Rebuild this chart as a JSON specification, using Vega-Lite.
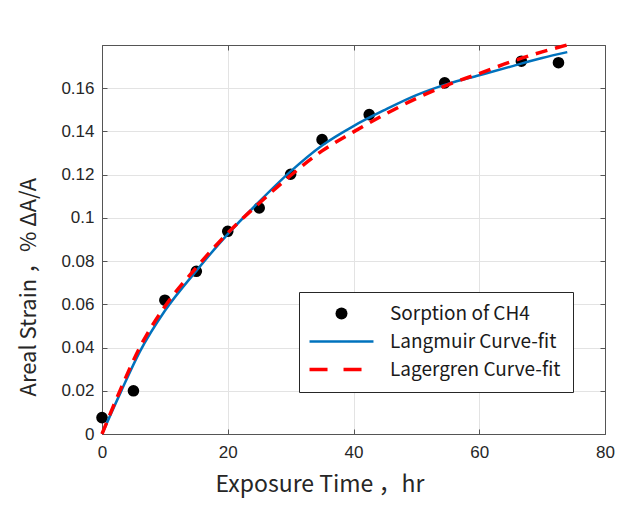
{
  "$schema": "https://vega.github.io/schema/vega-lite/v6.json",
  "autosize": "none",
  "width": 503,
  "height": 389,
  "padding": {"left": 102, "top": 45, "right": 16, "bottom": 72},
  "background": "white",
  "config": {
    "view": {"stroke": "#555555", "strokeWidth": 1},
    "axis": {
      "domainColor": "#555555",
      "tickColor": "#555555",
      "tickSize": -5,
      "gridColor": "#e3e3e3",
      "labelFont": "Liberation Sans",
      "labelFontSize": 17,
      "labelColor": "#262626",
      "labelFlush": false,
      "titleFont": "Noto Sans CJK SC",
      "titleFontSize": 23,
      "titleFontWeight": "normal",
      "titleColor": "#262626"
    },
    "legend": {
      "title": null,
      "orient": "none",
      "legendX": 197,
      "legendY": 247,
      "strokeColor": "#262626",
      "fillColor": "white",
      "padding": 12,
      "rowPadding": 8,
      "symbolSize": 144,
      "symbolOffset": 21,
      "labelOffset": 39,
      "labelLimit": 400,
      "labelFont": "Noto Sans CJK SC",
      "labelFontSize": 19,
      "labelColor": "#1a1a1a"
    }
  },
  "datasets": {
    "sorption": [
      {"series": "Sorption of CH4", "t": 0, "strain": 0.0076},
      {"series": "Sorption of CH4", "t": 5, "strain": 0.0200},
      {"series": "Sorption of CH4", "t": 10, "strain": 0.0619},
      {"series": "Sorption of CH4", "t": 15, "strain": 0.0753},
      {"series": "Sorption of CH4", "t": 20, "strain": 0.0938},
      {"series": "Sorption of CH4", "t": 25, "strain": 0.1046},
      {"series": "Sorption of CH4", "t": 30, "strain": 0.1202},
      {"series": "Sorption of CH4", "t": 35, "strain": 0.1362},
      {"series": "Sorption of CH4", "t": 42.5, "strain": 0.1478},
      {"series": "Sorption of CH4", "t": 54.5, "strain": 0.1625},
      {"series": "Sorption of CH4", "t": 66.7, "strain": 0.1725},
      {"series": "Sorption of CH4", "t": 72.6, "strain": 0.1718}
    ],
    "langmuir": [
      {"series": "Langmuir Curve-fit", "t": 0, "strain": 0},
      {"series": "Langmuir Curve-fit", "t": 3, "strain": 0.0195},
      {"series": "Langmuir Curve-fit", "t": 6, "strain": 0.038},
      {"series": "Langmuir Curve-fit", "t": 10, "strain": 0.057},
      {"series": "Langmuir Curve-fit", "t": 15, "strain": 0.0755},
      {"series": "Langmuir Curve-fit", "t": 20, "strain": 0.0925},
      {"series": "Langmuir Curve-fit", "t": 25, "strain": 0.1075},
      {"series": "Langmuir Curve-fit", "t": 30, "strain": 0.1215},
      {"series": "Langmuir Curve-fit", "t": 35, "strain": 0.1335},
      {"series": "Langmuir Curve-fit", "t": 40, "strain": 0.1425},
      {"series": "Langmuir Curve-fit", "t": 45, "strain": 0.150},
      {"series": "Langmuir Curve-fit", "t": 50, "strain": 0.1568},
      {"series": "Langmuir Curve-fit", "t": 55, "strain": 0.1620},
      {"series": "Langmuir Curve-fit", "t": 60, "strain": 0.1660},
      {"series": "Langmuir Curve-fit", "t": 65, "strain": 0.1700},
      {"series": "Langmuir Curve-fit", "t": 70, "strain": 0.1740},
      {"series": "Langmuir Curve-fit", "t": 74, "strain": 0.1767}
    ],
    "lagergren": [
      {"series": "Lagergren Curve-fit", "t": 0, "strain": 0},
      {"series": "Lagergren Curve-fit", "t": 3, "strain": 0.021},
      {"series": "Lagergren Curve-fit", "t": 6, "strain": 0.040},
      {"series": "Lagergren Curve-fit", "t": 10, "strain": 0.059},
      {"series": "Lagergren Curve-fit", "t": 15, "strain": 0.077},
      {"series": "Lagergren Curve-fit", "t": 20, "strain": 0.093},
      {"series": "Lagergren Curve-fit", "t": 25, "strain": 0.1068},
      {"series": "Lagergren Curve-fit", "t": 30, "strain": 0.1196},
      {"series": "Lagergren Curve-fit", "t": 35, "strain": 0.131},
      {"series": "Lagergren Curve-fit", "t": 40, "strain": 0.1398},
      {"series": "Lagergren Curve-fit", "t": 45, "strain": 0.1479},
      {"series": "Lagergren Curve-fit", "t": 50, "strain": 0.1553},
      {"series": "Lagergren Curve-fit", "t": 55, "strain": 0.1616},
      {"series": "Lagergren Curve-fit", "t": 60, "strain": 0.1668},
      {"series": "Lagergren Curve-fit", "t": 65, "strain": 0.1722},
      {"series": "Lagergren Curve-fit", "t": 70, "strain": 0.1768},
      {"series": "Lagergren Curve-fit", "t": 74, "strain": 0.1800}
    ]
  },
  "layer": [
    {
      "data": {"name": "sorption"},
      "mark": {"type": "point", "filled": true, "size": 135, "opacity": 1},
      "encoding": {
        "x": {
          "field": "t", "type": "quantitative",
          "scale": {"domain": [0, 80], "nice": false},
          "axis": {"values": [0, 20, 40, 60, 80], "grid": true, "title": "Exposure Time ，hr", "labelPadding": 15, "titlePadding": 13, "titleAnchor": "start", "titleX": 113}
        },
        "y": {
          "field": "strain", "type": "quantitative",
          "scale": {"domain": [0, 0.18], "nice": false},
          "axis": {"values": [0, 0.02, 0.04, 0.06, 0.08, 0.1, 0.12, 0.14, 0.16], "format": "~g", "grid": true, "title": "Areal Strain ，% ΔA/A", "titleFontSize": 22, "labelPadding": 13, "titlePadding": 20, "titleAnchor": "start", "titleY": 351}
        },
        "color": {
          "field": "series", "type": "nominal",
          "scale": {"domain": ["Sorption of CH4", "Langmuir Curve-fit", "Lagergren Curve-fit"], "range": ["#000000", "#0072BD", "#FF0000"]},
          "legend": {
            "labelExpr": "datum.label + '\u00a0\u00a0'",
            "encode": {
              "symbols": {
                "update": {
                  "shape": {"signal": "datum.value === 'Sorption of CH4' ? 'circle' : 'M-5.33,0H5.33'"},
                  "fill": {"signal": "datum.value === 'Sorption of CH4' ? '#000000' : 'transparent'"},
                  "stroke": {"signal": "datum.value === 'Langmuir Curve-fit' ? '#0072BD' : datum.value === 'Lagergren Curve-fit' ? '#FF0000' : 'transparent'"},
                  "strokeWidth": {"signal": "datum.value === 'Lagergren Curve-fit' ? 3.5 : datum.value === 'Langmuir Curve-fit' ? 2.5 : 0"},
                  "strokeDash": {"signal": "datum.value === 'Lagergren Curve-fit' ? [18, 16] : [1, 0]"},
                  "opacity": {"value": 1}
                }
              }
            }
          }
        }
      }
    },
    {
      "data": {"name": "langmuir"},
      "mark": {"type": "line", "strokeWidth": 2.5, "interpolate": "monotone"},
      "encoding": {
        "x": {"field": "t", "type": "quantitative", "axis": null},
        "y": {"field": "strain", "type": "quantitative", "axis": null},
        "color": {
          "field": "series", "type": "nominal",
          "legend": {
            "labelExpr": "datum.label + '\u00a0\u00a0'",
            "encode": {
              "symbols": {
                "update": {
                  "shape": {"signal": "datum.value === 'Sorption of CH4' ? 'circle' : 'M-5.33,0H5.33'"},
                  "fill": {"signal": "datum.value === 'Sorption of CH4' ? '#000000' : 'transparent'"},
                  "stroke": {"signal": "datum.value === 'Langmuir Curve-fit' ? '#0072BD' : datum.value === 'Lagergren Curve-fit' ? '#FF0000' : 'transparent'"},
                  "strokeWidth": {"signal": "datum.value === 'Lagergren Curve-fit' ? 3.5 : datum.value === 'Langmuir Curve-fit' ? 2.5 : 0"},
                  "strokeDash": {"signal": "datum.value === 'Lagergren Curve-fit' ? [18, 16] : [1, 0]"},
                  "opacity": {"value": 1}
                }
              }
            }
          }
        }
      }
    },
    {
      "data": {"name": "lagergren"},
      "mark": {"type": "line", "strokeWidth": 3.5, "strokeDash": [12, 8], "interpolate": "monotone"},
      "encoding": {
        "x": {"field": "t", "type": "quantitative", "axis": {"orient": "top", "values": [0, 20, 40, 60, 80], "labels": false, "grid": false, "title": null}},
        "y": {"field": "strain", "type": "quantitative", "axis": {"orient": "right", "values": [0, 0.02, 0.04, 0.06, 0.08, 0.1, 0.12, 0.14, 0.16], "labels": false, "grid": false, "title": null}},
        "color": {
          "field": "series", "type": "nominal",
          "legend": {
            "labelExpr": "datum.label + '\u00a0\u00a0'",
            "encode": {
              "symbols": {
                "update": {
                  "shape": {"signal": "datum.value === 'Sorption of CH4' ? 'circle' : 'M-5.33,0H5.33'"},
                  "fill": {"signal": "datum.value === 'Sorption of CH4' ? '#000000' : 'transparent'"},
                  "stroke": {"signal": "datum.value === 'Langmuir Curve-fit' ? '#0072BD' : datum.value === 'Lagergren Curve-fit' ? '#FF0000' : 'transparent'"},
                  "strokeWidth": {"signal": "datum.value === 'Lagergren Curve-fit' ? 3.5 : datum.value === 'Langmuir Curve-fit' ? 2.5 : 0"},
                  "strokeDash": {"signal": "datum.value === 'Lagergren Curve-fit' ? [18, 16] : [1, 0]"},
                  "opacity": {"value": 1}
                }
              }
            }
          }
        }
      }
    }
  ],
  "resolve": {"axis": {"x": "independent", "y": "independent"}}
}
